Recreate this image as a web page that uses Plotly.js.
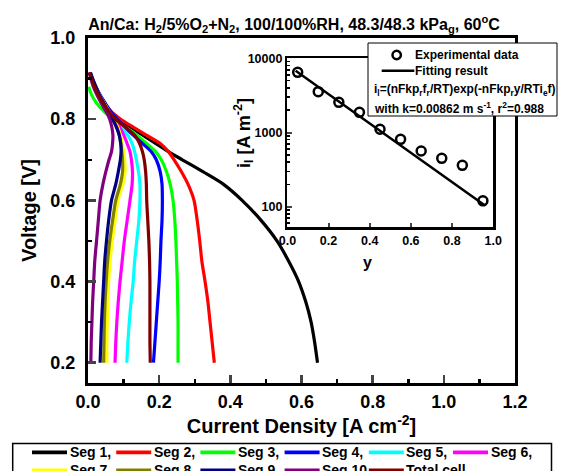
<!DOCTYPE html>
<html><head><meta charset="utf-8">
<script src="https://cdn.plot.ly/plotly-3.0.1.min.js"></script>
<style>html,body{margin:0;padding:0;background:#fff}#chart{width:567px;height:471px}</style>
</head><body><div id="chart"></div>
<script>
// ---- data ----
const voltage = [0.915,0.90,0.88,0.86,0.84,0.82,0.80,0.78,0.76,0.74,0.72,0.70,0.67,0.64,0.60,0.55,0.50,0.45,0.40,0.35,0.30,0.25,0.20];
const seg1  = [0.004,0.010,0.019,0.030,0.044,0.062,0.088,0.120,0.155,0.190,0.226,0.265,0.324,0.380,0.433,0.487,0.531,0.564,0.592,0.612,0.627,0.637,0.645];
const seg2  = [0.005,0.011,0.020,0.032,0.046,0.064,0.092,0.128,0.165,0.203,0.226,0.242,0.263,0.281,0.298,0.307,0.314,0.320,0.329,0.337,0.343,0.349,0.355];
const seg3  = [null,null,0.002,0.010,0.024,0.044,0.072,0.105,0.138,0.165,0.190,0.206,0.221,0.231,0.239,0.244,0.247,0.249,0.251,0.252,0.253,0.253,0.253];
const seg4  = [0.006,0.012,0.022,0.034,0.048,0.063,0.082,0.104,0.128,0.153,0.178,0.192,0.203,0.208,0.209,0.208,0.205,0.203,0.200,0.196,0.192,0.188,0.184];
const seg5  = [0.005,0.011,0.020,0.031,0.044,0.058,0.075,0.094,0.112,0.124,0.131,0.136,0.142,0.146,0.146,0.143,0.137,0.131,0.127,0.121,0.116,0.112,0.109];
const seg6  = [0.005,0.011,0.020,0.031,0.044,0.058,0.074,0.089,0.101,0.110,0.118,0.122,0.125,0.124,0.118,0.110,0.102,0.096,0.090,0.085,0.081,0.078,0.076];
const seg7  = [0.006,0.012,0.021,0.032,0.045,0.058,0.072,0.084,0.091,0.096,0.100,0.103,0.104,0.098,0.084,0.076,0.068,0.062,0.058,0.056,0.054,0.053,0.053];
const seg8  = [0.006,0.012,0.021,0.032,0.044,0.057,0.070,0.081,0.088,0.092,0.095,0.097,0.097,0.091,0.078,0.069,0.061,0.055,0.051,0.048,0.046,0.045,0.044];
const seg9  = [0.007,0.013,0.022,0.032,0.044,0.056,0.069,0.080,0.088,0.092,0.093,0.091,0.085,0.078,0.066,0.058,0.052,0.047,0.044,0.041,0.038,0.036,0.034];
const seg10 = [0.004,0.008,0.015,0.025,0.037,0.050,0.061,0.067,0.070,0.069,0.066,0.059,0.050,0.042,0.034,0.029,0.024,0.019,0.016,0.013,0.011,0.009,0.008];
const totalCell = [0.004,0.009,0.018,0.029,0.042,0.058,0.077,0.105,0.132,0.145,0.153,0.158,0.162,0.164,0.165,0.168,0.171,0.173,0.174,0.174,0.174,0.174,0.175];

const segNames  = ['Seg 1,','Seg 2,','Seg 3,','Seg 4,','Seg 5,','Seg 6,','Seg 7,','Seg 8,','Seg 9,','Seg 10,','Total cell'];
const segColors = ['#000000','#ff0000','#00ff00','#0000ff','#00ffff','#ff00ff','#ffff00','#808000','#000080','#800080','#800000'];
const segCurrents = [seg1,seg2,seg3,seg4,seg5,seg6,seg7,seg8,seg9,seg10,totalCell];

// inset: limiting current vs position
const insetY   = [0.05,0.15,0.25,0.35,0.45,0.55,0.65,0.75,0.85,0.95];
const insetIl  = [6470,3550,2550,1870,1105,810,563,449,361,120];
const fitY     = [0.04,0.96];
const fitIl    = [6800,104];

const mainXTicks = [0,0.2,0.4,0.6,0.8,1.0,1.2];
const mainYTicks = [0.2,0.4,0.6,0.8,1.0];
const insetXTicks = [0,0.2,0.4,0.6,0.8,1.0];
const insetYTicks = [100,1000,10000];

// ---- geometry helpers ----
const W=567,H=471,ML=88,MR=52,MT=38,MB=88;
const PW=W-ML-MR, PH=H-MT-MB;
const px = p => (p-ML)/PW;
const py = p => (H-MB-p)/PH;

const traces = segCurrents.map((cur,i)=>({
  x: cur, y: voltage, type:'scatter', mode:'lines', name: segNames[i],
  line:{color:segColors[i], width:3.2, shape:'spline', smoothing:0.7},
  showlegend:false, hoverinfo:'skip'
}));
traces.push({x:insetY, y:insetIl, xaxis:'x2', yaxis:'y2', type:'scatter', mode:'markers',
  name:'Experimental data', marker:{symbol:'circle-open', size:9, color:'#000', line:{width:2.5,color:'#000'}}, showlegend:false});
traces.push({x:fitY, y:fitIl, xaxis:'x2', yaxis:'y2', type:'scatter', mode:'lines',
  name:'Fitting result', line:{color:'#000', width:2.5}, showlegend:false});

const minorLog = [];
[10,100,1000].forEach(d=>{for(let k=2;k<=9;k++) minorLog.push(k*d);});

const shapes = [];
const annotations = [];

// inset legend box
shapes.push({type:'rect', xref:'paper', yref:'paper', layer:'above',
  x0:px(368), x1:px(557), y0:py(116), y1:py(43), fillcolor:'#fff', line:{color:'#000', width:1}});
shapes.push({type:'circle', xref:'paper', yref:'paper', layer:'above',
  x0:px(392.5), x1:px(400.9), y0:py(59.2), y1:py(50.8), line:{color:'#000', width:2.5}});
shapes.push({type:'line', xref:'paper', yref:'paper', layer:'above',
  x0:px(381.7), x1:px(414.3), y0:py(70.7), y1:py(70.7), line:{color:'#000', width:2.5}});
const insetLegendText = [
  {t:'Experimental data', x:413, y:55},
  {t:'Fitting result', x:413, y:71},
  {t:'i<sub>l</sub>=(nFkp<sub>r</sub>f<sub>r</sub>/RT)exp(-nFkp<sub>r</sub>y/RTi<sub>e</sub>f)', x:372, y:90},
  {t:'with k=0.00862 m s<sup>-1</sup>, r<sup>2</sup>=0.988', x:372, y:108}
];
insetLegendText.forEach(o=>annotations.push({text:o.t, xref:'paper', yref:'paper', x:px(o.x), y:py(o.y),
  xanchor:'left', yanchor:'middle', showarrow:false, font:{size:12}}));

// inset axis titles
annotations.push({text:'i<sub>l</sub> [A m<sup>-2</sup>]', xref:'paper', yref:'paper', x:px(243), y:py(133),
  textangle:-90, xanchor:'center', yanchor:'middle', showarrow:false, font:{size:18}});
annotations.push({text:'y', xref:'paper', yref:'paper', x:px(367), y:py(262),
  xanchor:'center', yanchor:'middle', showarrow:false, font:{size:16}});

// bottom legend
shapes.push({type:'rect', xref:'paper', yref:'paper', layer:'above',
  x0:px(12.7), x1:px(551.5), y0:py(495), y1:py(443.4), line:{color:'#000', width:1.5}});
segNames.forEach((n,i)=>{
  const col=i%6, row=Math.floor(i/6);
  const lx = 32 + col*84.2, ly = 452.4 + row*18;
  shapes.push({type:'line', xref:'paper', yref:'paper', layer:'above',
    x0:px(lx), x1:px(lx+35), y0:py(ly), y1:py(ly), line:{color:segColors[i], width:3.6}});
  annotations.push({text:n, xref:'paper', yref:'paper', x:px(lx+35.5), y:py(ly),
    xanchor:'left', yanchor:'middle', showarrow:false, font:{size:14}});
});

const layout = {
  width:W, height:H, margin:{l:ML, r:MR, t:MT, b:MB, pad:0},
  paper_bgcolor:'#fff', plot_bgcolor:'rgba(0,0,0,0)',
  font:{family:'Liberation Sans, Arial, sans-serif', color:'#000', weight:'bold', size:14},
  title:{text:'An/Ca: H<sub>2</sub>/5%O<sub>2</sub>+N<sub>2</sub>, 100/100%RH, 48.3/48.3 kPa<sub>g</sub>, 60<sup>o</sup>C',
    font:{size:16}, x:294/W, xanchor:'center', xref:'container', y:1-24/H, yanchor:'middle', yref:'container'},
  showlegend:false,
  xaxis:{range:[0,1.2], tickvals:mainXTicks, tickformat:'.1f', ticks:'inside', ticklen:8, tickwidth:2.5,
    minor:{dtick:0.1, ticks:'inside', ticklen:4, tickwidth:2.5, tickcolor:'#000'},
    showline:true, linewidth:3, linecolor:'#000', mirror:true, showgrid:false, zeroline:false,
    tickfont:{size:18}, ticklabelstandoff:0,
    title:{text:'Current Density [A cm<sup>-2</sup>]', font:{size:20}, standoff:3}},
  yaxis:{range:[0.15,1.0], tickvals:mainYTicks, tickformat:'.1f', ticks:'inside', ticklen:8, tickwidth:2.5,
    minor:{dtick:0.1, ticks:'inside', ticklen:4, tickwidth:2.5, tickcolor:'#000'},
    showline:true, linewidth:3, linecolor:'#000', mirror:true, showgrid:false, zeroline:false,
    tickfont:{size:18}, ticklabelstandoff:6,
    title:{text:'Voltage [V]', font:{size:20}, standoff:9}},
  xaxis2:{domain:[px(287.4), px(493.2)], anchor:'y2', range:[0,1], tickvals:insetXTicks, tickformat:'.1f',
    ticks:'inside', ticklen:4, tickwidth:2, showline:true, linewidth:2.5, linecolor:'#000', mirror:true,
    showgrid:false, zeroline:false, tickfont:{size:12.5}},
  yaxis2:{domain:[py(227), py(58.3)], anchor:'x2', type:'log', range:[1.727,4], tickvals:insetYTicks,
    ticktext:insetYTicks.map(String), ticks:'inside', ticklen:5, tickwidth:2,
    minor:{tickvals:minorLog, ticks:'inside', ticklen:3, tickwidth:1.5, tickcolor:'#000'},
    showline:true, linewidth:2.5, linecolor:'#000', mirror:true, showgrid:false, zeroline:false,
    tickfont:{size:12.5}},
  shapes:shapes, annotations:annotations
};

Plotly.newPlot('chart', traces, layout, {displayModeBar:false, staticPlot:true});
</script></body></html>
